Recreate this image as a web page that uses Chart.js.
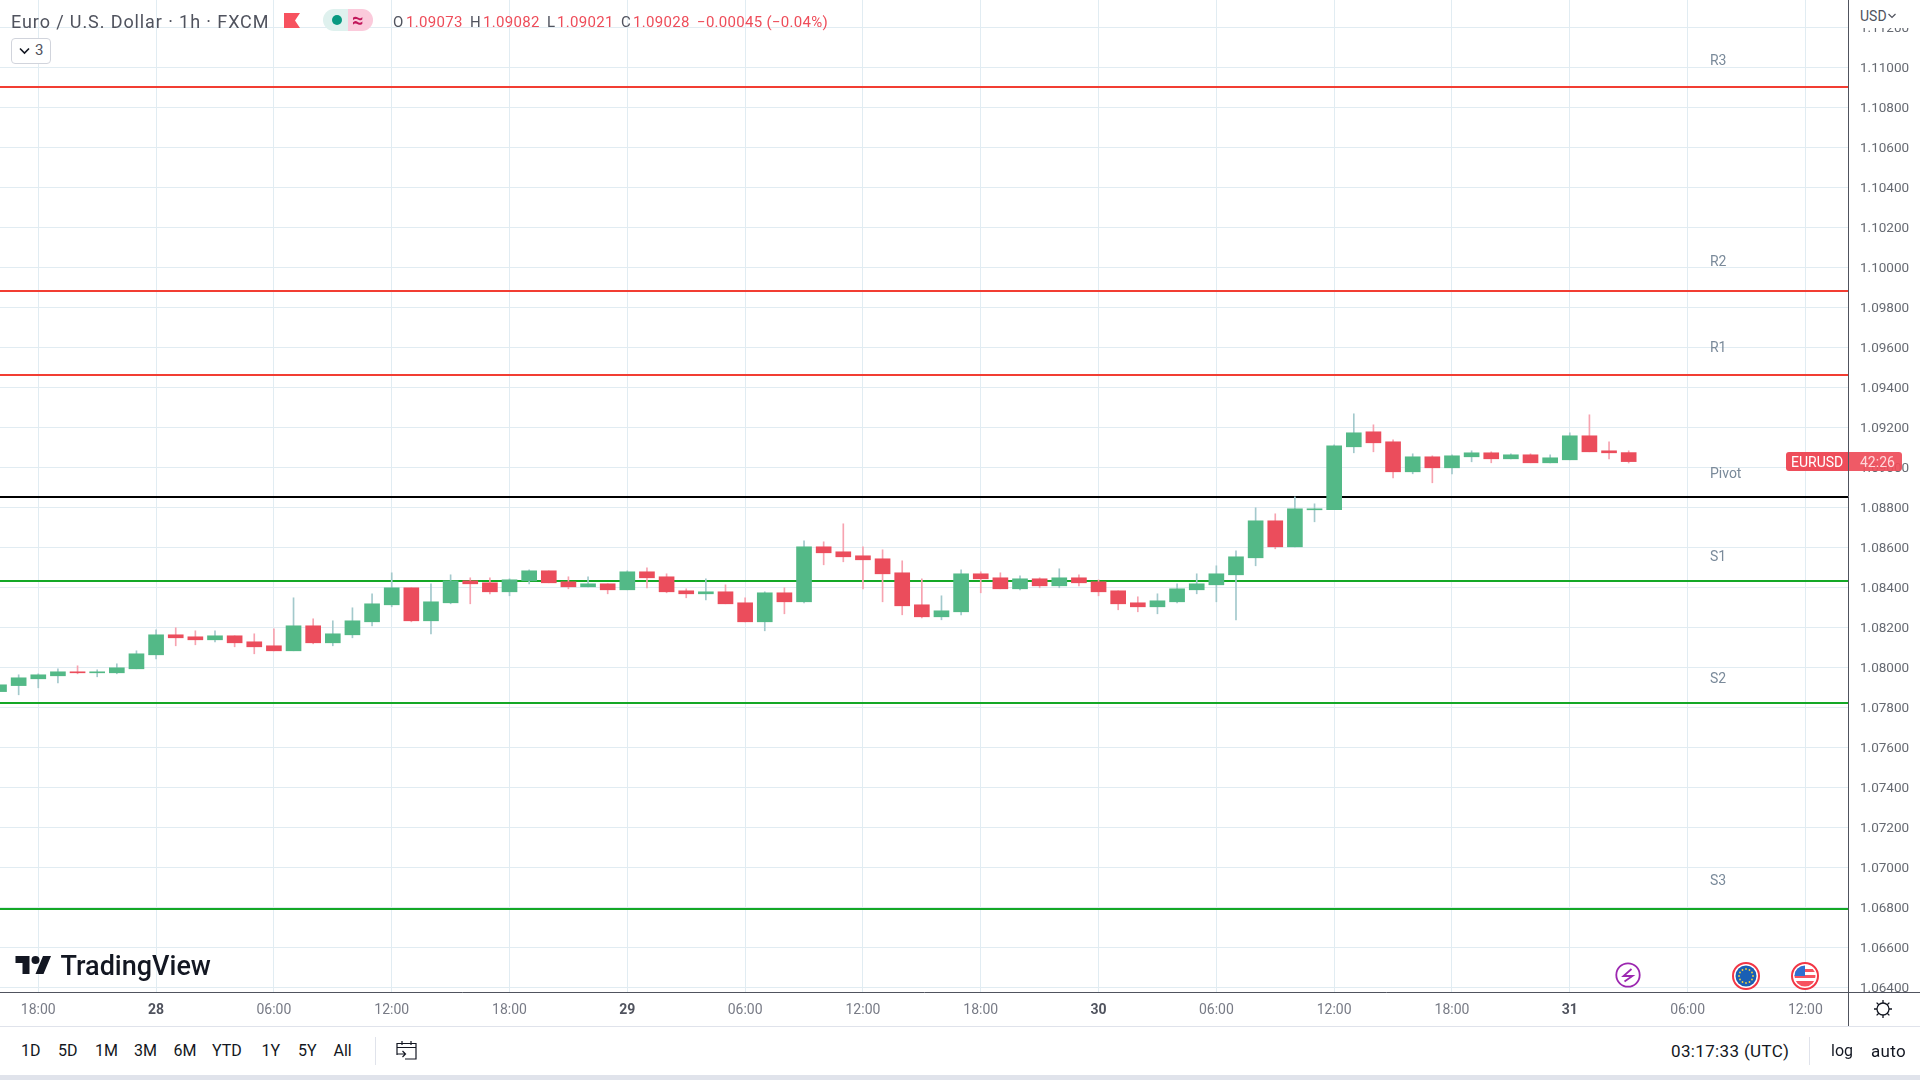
<!DOCTYPE html>
<html><head><meta charset="utf-8">
<script src="https://cdn.jsdelivr.net/npm/chart.js@4/dist/chart.umd.min.js"></script>
<style>
html,body{margin:0;padding:0;background:#fff;width:1920px;height:1080px;overflow:hidden;font-family:Roboto,sans-serif}
#wrap{position:relative;width:1920px;height:1080px}
canvas{position:absolute;left:0;top:0}
svg{display:block}
.t{position:absolute;white-space:nowrap;line-height:1}
.b{position:absolute}
</style></head><body><div id="wrap">
<canvas id="c" width="1920" height="1080"></canvas>
</div>
<script>
const opens=[1.07878,1.07908,1.07942,1.07957,1.07977,1.07972,1.07972,1.07992,1.08062,1.08162,
1.08152,1.08137,1.08157,1.08127,1.08107,1.08082,1.08207,1.08122,1.08162,1.08227,
1.08312,1.08397,1.08232,1.08322,1.08432,1.08422,1.08377,1.08432,1.08482,1.08427,
1.08402,1.08417,1.08387,1.08477,1.08452,1.08382,1.08367,1.08377,1.08322,1.08227,
1.08372,1.08327,1.08602,1.08577,1.08557,1.08542,1.08472,1.08312,1.08252,1.08277,
1.08467,1.08447,1.08392,1.08442,1.08407,1.08447,1.08427,1.08382,1.08322,1.08302,
1.08327,1.08387,1.08412,1.08462,1.08547,1.08732,1.08602,1.08787,1.08788,1.09102,
1.09177,1.09127,1.08977,1.09052,1.08997,1.09052,1.09072,1.09042,1.09062,1.09022,
1.09037,1.09157,1.09082,1.09073];
const closes=[1.07912,1.07947,1.07962,1.07977,1.07972,1.07977,1.07997,1.08067,1.08162,1.08147,
1.08137,1.08157,1.08122,1.08102,1.08082,1.08207,1.08122,1.08167,1.08232,1.08317,
1.08397,1.08232,1.08327,1.08432,1.08417,1.08377,1.08437,1.08482,1.08422,1.08402,
1.08417,1.08387,1.08477,1.08447,1.08377,1.08367,1.08377,1.08317,1.08227,1.08372,
1.08327,1.08602,1.08572,1.08552,1.08537,1.08467,1.08307,1.08252,1.08282,1.08467,
1.08442,1.08392,1.08442,1.08407,1.08447,1.08422,1.08377,1.08317,1.08302,1.08332,
1.08392,1.08417,1.08467,1.08552,1.08732,1.08602,1.08792,1.08792,1.09107,1.09172,
1.09122,1.08977,1.09052,1.08997,1.09057,1.09072,1.09042,1.09062,1.09022,1.09047,
1.09157,1.09077,1.09072,1.09028];
const highs=[1.07920,1.07962,1.07967,1.07992,1.08007,1.07987,1.08017,1.08082,1.08187,1.08197,
1.08182,1.08182,1.08157,1.08167,1.08192,1.08347,1.08242,1.08232,1.08297,1.08367,
1.08472,1.08397,1.08417,1.08462,1.08447,1.08447,1.08442,1.08487,1.08482,1.08452,
1.08452,1.08417,1.08482,1.08497,1.08467,1.08392,1.08442,1.08412,1.08347,1.08377,
1.08397,1.08632,1.08627,1.08717,1.08602,1.08587,1.08532,1.08442,1.08357,1.08487,
1.08477,1.08472,1.08457,1.08447,1.08492,1.08462,1.08437,1.08382,1.08352,1.08367,
1.08417,1.08467,1.08507,1.08582,1.08797,1.08767,1.08852,1.08817,1.09112,1.09267,
1.09212,1.09137,1.09067,1.09057,1.09062,1.09082,1.09077,1.09067,1.09067,1.09062,
1.09172,1.09262,1.09127,1.09082];
const lows=[1.07867,1.07862,1.07897,1.07922,1.07967,1.07952,1.07967,1.07992,1.08042,1.08107,
1.08112,1.08127,1.08102,1.08067,1.08082,1.08082,1.08117,1.08107,1.08147,1.08207,
1.08302,1.08227,1.08167,1.08317,1.08317,1.08367,1.08357,1.08417,1.08422,1.08392,
1.08402,1.08367,1.08387,1.08397,1.08372,1.08347,1.08337,1.08317,1.08227,1.08182,
1.08267,1.08322,1.08512,1.08527,1.08392,1.08327,1.08262,1.08247,1.08237,1.08262,
1.08372,1.08392,1.08387,1.08397,1.08397,1.08407,1.08357,1.08287,1.08277,1.08267,
1.08322,1.08367,1.08327,1.08237,1.08507,1.08592,1.08602,1.08727,1.08788,1.09072,
1.09077,1.08947,1.08967,1.08922,1.08967,1.09027,1.09022,1.09042,1.09022,1.09022,
1.09037,1.09077,1.09042,1.09021];
const timeTickBars=[2,8,14,20,26,32,38,44,50,56,62,68,74,80,86,92];
const timeTickLabels=["18:00","28","06:00","12:00","18:00","29","06:00","12:00","18:00","30","06:00","12:00","18:00","31","06:00","12:00"];
const dayLabels=["28","29","30","31"];
const priceTicks=[1.064,1.066,1.068,1.07,1.072,1.074,1.076,1.078,1.08,1.082,1.084,1.086,1.088,1.09,1.092,1.094,1.096,1.098,1.1,1.102,1.104,1.106,1.108,1.11,1.112];
const pivotNames=["R3","R2","R1","Pivot","S1","S2","S3"];
const pivotValues=[1.10901,1.09881,1.09461,1.08851,1.08431,1.07821,1.06791];
const pivotColors=["#f23d32","#f23d32","#f23d32","#000000","#14a826","#14a826","#14a826"];
const pivotLabelValues=[1.11029,1.10026,1.09596,1.08966,1.08551,1.07941,1.06930];
const pivotLabelBar=87.14;
const xMin=0.05,xMax=94.17,yMin=1.06376,yMax=1.11336;
const UP="#53b987",DOWN="#eb4d5c",UPW="#a3c9cc",DOWNW="#f7a3b0",GRID="#e1ecf2";

const isUp=i=>closes[i]>=opens[i];
const wickData=opens.map((_,i)=>({x:i,y:[lows[i],highs[i]]}));
const bodyData=opens.map((o,i)=>({x:i,y:[Math.min(o,closes[i]),Math.max(o,closes[i])]}));
const lineSets=pivotValues.map((v,i)=>({type:'line',label:pivotNames[i],data:[{x:xMin,y:v},{x:xMax,y:v}],
  borderColor:pivotColors[i],borderWidth:2,pointRadius:0,order:3,tension:0}));

const pivotText={id:'pivotText',afterDatasetsDraw(ch){
  const c=ch.ctx;c.save();c.font='14px Roboto';c.fillStyle='#7a8a9a';c.textBaseline='middle';c.textAlign='left';
  pivotNames.forEach((n,i)=>c.fillText(n,ch.scales.x.getPixelForValue(pivotLabelBar),ch.scales.y.getPixelForValue(pivotLabelValues[i])));
  c.restore();}};

new Chart(document.getElementById('c'),{
 data:{datasets:[
  {type:'bar',label:'body',data:bodyData,backgroundColor:opens.map((_,i)=>isUp(i)?UP:DOWN),barThickness:15,order:1,grouped:false,minBarLength:1},
  {type:'bar',label:'wick',data:wickData,backgroundColor:opens.map((_,i)=>isUp(i)?UPW:DOWNW),barThickness:1,order:2,grouped:false},
  ...lineSets]},
 plugins:[pivotText],
 options:{responsive:false,animation:false,devicePixelRatio:1,
  layout:{padding:{left:0,top:0,right:0,bottom:54}},
  plugins:{legend:{display:false},tooltip:{enabled:false}},
  scales:{
   x:{type:'linear',min:xMin,max:xMax,offset:false,
     grid:{offset:false,color:GRID,lineWidth:1,drawTicks:false},
     border:{color:'#50535e',width:1},
     afterBuildTicks(s){s.ticks=timeTickBars.map(v=>({value:v}));},
     afterFit(s){s.height=34;s.paddingLeft=0;s.paddingRight=0;s.paddingTop=0;s.paddingBottom=0;},
     ticks:{autoSkip:false,maxRotation:0,padding:10,
       callback:(v)=>timeTickLabels[timeTickBars.indexOf(v)],
       color:c=>dayLabels.includes(timeTickLabels[c.index])?'#50535e':'#787b86',
       font:c=>({family:'Roboto',size:14,weight:dayLabels.includes(timeTickLabels[c.index])?'700':'400'})}},
   y:{type:'linear',position:'right',min:yMin,max:yMax,
     grid:{color:GRID,lineWidth:1,drawTicks:false},
     border:{color:'#50535e',width:1},
     afterBuildTicks(s){s.ticks=priceTicks.map(v=>({value:v}));},
     afterFit(s){s.width=72;s.paddingTop=0;s.paddingBottom=0;s.paddingLeft=0;s.paddingRight=0;},
     ticks:{padding:12,autoSkip:false,labelOffset:1,color:'#666a72',font:{family:'Roboto',size:13.5},callback:v=>v.toFixed(5)}}
  }}
});

const w=document.getElementById('wrap');
function box(l,t,wd,h,css){const d=document.createElement('div');d.className='b';d.style.cssText+=`left:${l}px;top:${t}px;width:${wd}px;height:${h}px;${css||''}`;w.appendChild(d);return d;}
function txt(s,l,cy,size,color,extra){const d=document.createElement('div');d.className='t';d.textContent=s;d.style.cssText+=`left:${l}px;top:${cy-size/2}px;font-size:${size}px;color:${color};${extra||''}`;w.appendChild(d);return d;}
function html(l,t,markup){const d=document.createElement('div');d.className='b';d.style.cssText+=`left:${l}px;top:${t}px;`;d.innerHTML=markup;w.appendChild(d);return d;}

// axis furniture
box(1849,0,71,28,'background:#fff');
box(1849,992,71,1,'background:#50535e');
box(1848,992,1,34,'background:#50535e');
box(0,1026,1920,1,'background:#e0e3eb');
box(0,1027,1920,48,'background:#fff');
box(0,1075,1920,5,'background:#e0e3eb');
// header
txt('Euro / U.S. Dollar · 1h · FXCM',11,22,18,'#50535e','letter-spacing:.9px');
html(284,13,'<svg width="16" height="15"><path d="M0 0H16L11 7.5L16 15H0Z" fill="#f7525f"/></svg>');
box(323,9,25,22,'background:#dff1ee;border-radius:11px 0 0 11px');
box(348,9,25,22,'background:#fbcadb;border-radius:0 11px 11px 0');
box(332,15,10,10,'background:#089981;border-radius:50%');
txt('≈',352,20,20,'#c2185b','font-weight:700');
const ohlc=[['O',393,'#50535e'],['1.09073',406,'#ee4d5a'],['H',470,'#50535e'],['1.09082',483,'#ee4d5a'],['L',547,'#50535e'],['1.09021',557,'#ee4d5a'],['C',621,'#50535e'],['1.09028',633,'#ee4d5a'],['−0.00045 (−0.04%)',697,'#ee4d5a']];
ohlc.forEach(o=>txt(o[0],o[1],22,15,o[2],'letter-spacing:.3px'));
box(11,38,38,24,'border:1px solid #d1d4dc;border-radius:4px;background:#fff');
html(19,47,'<svg width="11" height="8"><path d="M1 1.5L5.5 6L10 1.5" fill="none" stroke="#131722" stroke-width="1.6"/></svg>');
txt('3',35,50.5,15,'#50535e');
// currency
txt('USD',1860,15.5,14,'#50535e');
html(1888,13,'<svg width="8" height="6"><path d="M0.5 1L4 4.5L7.5 1" fill="none" stroke="#50535e" stroke-width="1.2"/></svg>');
// price tag
box(1786,452,62,19,'background:#ee4d5a;border-radius:3px 0 0 3px');
box(1849,452,53,19,'background:rgba(238,77,90,.93);border-radius:0 3px 3px 0');
txt('EURUSD',1791,461.5,14,'#fff');
txt('42:26',1860,461.5,14,'#ffd6da');
// logo
html(15,956,'<svg width="37" height="18" viewBox="0 4 36 18"><path d="M14 22H7V11H0V4h14v18zM28 22h-8l7.5-18h8L28 22z" fill="#131722"/><circle cx="20" cy="8" r="4" fill="#131722"/></svg>');
txt('TradingView',60.5,966,27,'#131722','font-weight:500');
// toolbar
[['1D',21],['5D',58],['1M',95],['3M',134],['6M',173.6],['YTD',212],['1Y',261.6],['5Y',298],['All',333.5]].forEach(r=>txt(r[0],r[1],1051,16,'#131722'));
box(375,1037,1,28,'background:#e0e3eb');
html(396,1040,'<svg width="21" height="20" fill="none" stroke="#131722" stroke-width="1.2"><path d="M1 15V3.5H20V19H9M1 7.5H20M6 1V5M15 1V5M1 14H9M6.5 11L9.5 14L6.5 17"/></svg>');
txt('03:17:33 (UTC)',1671,1051,17,'#131722','letter-spacing:.35px');
box(1809,1037,1,28,'background:#e0e3eb');
txt('log',1831,1051,16,'#131722');
txt('auto',1871,1051,17,'#131722','letter-spacing:.3px');
// gear
html(1873,999,'<svg width="20" height="20" fill="none" stroke="#131722" stroke-width="1.3"><circle cx="10" cy="10" r="6"/><path d="M10 1V4M10 16V19M1 10H4M16 10H19M3.6 3.6L5.8 5.8M14.2 14.2L16.4 16.4M3.6 16.4L5.8 14.2M14.2 5.8L16.4 3.6"/></svg>');
// event icons
html(1615,962,'<svg width="26" height="26" fill="none"><circle cx="13" cy="13" r="11.7" stroke="#9c27b0" stroke-width="1.8"/><path d="M16.5 7L8.5 14H17.5L9.5 19.5" stroke="#9c27b0" stroke-width="1.8"/></svg>');
let stars='';[[0,-7],[3.5,-6],[6,-3.5],[7,0],[6,3.5],[3.5,6],[0,7],[-3.5,6],[-6,3.5],[-7,0],[-6,-3.5],[-3.5,-6]].forEach(p=>{stars+=`<circle cx="${14+p[0]}" cy="${14+p[1]}" r="0.9" fill="#f4d03f"/>`;});
html(1732,961.5,`<svg width="28" height="28"><circle cx="14" cy="14" r="13" fill="#fff" stroke="#f23645" stroke-width="2"/><circle cx="14" cy="14" r="10.5" fill="#1a5fb4"/>${stars}</svg>`);
html(1791,961.5,`<svg width="28" height="28"><defs><clipPath id="uc"><circle cx="14" cy="14" r="10.5"/></clipPath></defs><circle cx="14" cy="14" r="13" fill="#fff" stroke="#f23645" stroke-width="2"/><g clip-path="url(#uc)"><rect x="0" y="0" width="28" height="28" fill="#fff"/><rect x="0" y="7" width="28" height="3" fill="#f7525f"/><rect x="0" y="13" width="28" height="3" fill="#f7525f"/><rect x="0" y="19" width="28" height="6" fill="#f7525f"/><rect x="0" y="0" width="14" height="14" fill="#2f6fd0"/></g></svg>`);
</script></body></html>
